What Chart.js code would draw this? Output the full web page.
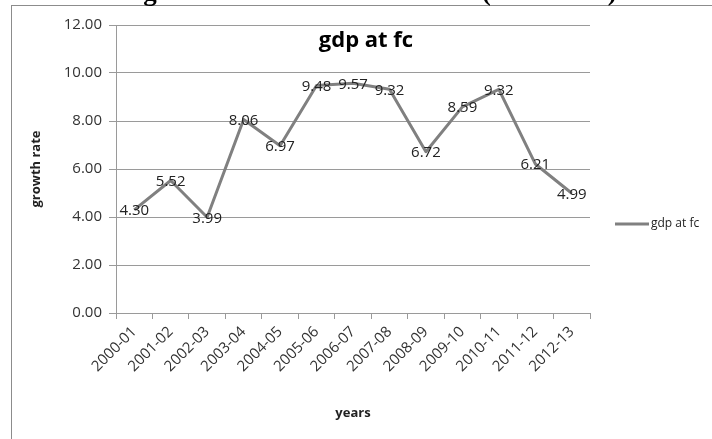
<!DOCTYPE html>
<html>
<head>
<meta charset="utf-8">
<script src="https://cdn.jsdelivr.net/npm/chart.js@4/dist/chart.umd.min.js"></script>
<style>
  html, body { margin: 0; padding: 0; background: #fff; overflow: hidden; }
  canvas { display: block; }
</style>
</head>
<body>
<canvas id="chart" width="712" height="439"></canvas>
<script>
// Fiscal years on the category axis
const years = ['2000-01', '2001-02', '2002-03', '2003-04', '2004-05', '2005-06', '2006-07',
               '2007-08', '2008-09', '2009-10', '2010-11', '2011-12', '2012-13'];
// Growth rate of GDP at factor cost, per cent
const gdpAtFc = [4.30, 5.52, 3.99, 8.06, 6.97, 9.48, 9.57, 9.32, 6.72, 8.59, 9.32, 6.21, 4.99];
// Value-axis ticks
const yTicks = [0, 2, 4, 6, 8, 10, 12];

const seriesName = 'gdp at fc';
const chartTitle = 'gdp at fc';
const xTitle = 'years';
const yTitle = 'growth rate';
const pageHeading = 'Annual growth of GDP at factor cost (2004-2005)';

const FONT = '"Open Sans", "Noto Sans", sans-serif';
const GRID = '#9a9a9a';
const LINE = '#808080';

// Page heading above the chart frame, plus the frame itself
const frameAndHeading = {
  id: 'frameAndHeading',
  beforeDraw(chart) {
    const ctx = chart.ctx;
    ctx.save();
    ctx.fillStyle = '#fff';
    ctx.fillRect(0, 0, chart.width, chart.height);
    ctx.strokeStyle = '#8c8c8c';
    ctx.lineWidth = 1;
    ctx.strokeRect(11.5, 5.5, 900, 600);
    ctx.fillStyle = '#000';
    ctx.font = 'bold 27px "Liberation Serif", serif';
    ctx.textAlign = 'left';
    ctx.textBaseline = 'alphabetic';
    ctx.fillText(pageHeading, 51, -0.5);
    ctx.restore();
  }
};

// Chart title laid over the top of the plot
const overlayTitle = {
  id: 'overlayTitle',
  afterDraw(chart) {
    const ctx = chart.ctx;
    ctx.save();
    ctx.fillStyle = '#000';
    ctx.font = 'bold 22px ' + FONT;
    ctx.textAlign = 'center';
    ctx.textBaseline = 'alphabetic';
    ctx.fillText(chartTitle, 366, 47);
    ctx.restore();
  }
};

// Value labels centred on each point of the line
const pointLabels = {
  id: 'pointLabels',
  afterDatasetsDraw(chart) {
    const ctx = chart.ctx;
    ctx.save();
    ctx.fillStyle = '#222';
    ctx.font = '15px ' + FONT;
    ctx.textAlign = 'center';
    ctx.textBaseline = 'middle';
    chart.data.datasets.forEach((ds, i) => {
      chart.getDatasetMeta(i).data.forEach((pt, j) => {
        ctx.fillText(ds.data[j].toFixed(2), pt.x, pt.y + 1);
      });
    });
    ctx.restore();
  }
};

// Legend entry to the right of the plot
const sideLegend = {
  id: 'sideLegend',
  afterDraw(chart) {
    const ctx = chart.ctx;
    const ds = chart.data.datasets[0];
    const x0 = chart.chartArea.right + 25;
    const y = 224;
    ctx.save();
    ctx.strokeStyle = ds.borderColor;
    ctx.lineWidth = ds.borderWidth;
    ctx.beginPath();
    ctx.moveTo(x0, y);
    ctx.lineTo(x0 + 34, y);
    ctx.stroke();
    ctx.fillStyle = '#222';
    ctx.font = '12px ' + FONT;
    ctx.textAlign = 'left';
    ctx.textBaseline = 'middle';
    ctx.fillText(ds.label, x0 + 36, y);
    ctx.restore();
  }
};

new Chart(document.getElementById('chart'), {
  type: 'line',
  data: {
    labels: years,
    datasets: [{
      label: seriesName,
      data: gdpAtFc,
      borderColor: LINE,
      borderWidth: 3,
      borderJoinStyle: 'round',
      pointRadius: 0,
      tension: 0,
      fill: false
    }]
  },
  options: {
    responsive: false,
    animation: false,
    devicePixelRatio: 1,
    layout: { padding: { left: 0, top: 25, right: 122, bottom: 0 } },
    plugins: {
      legend: { display: false },
      title: { display: false },
      tooltip: { enabled: false }
    },
    scales: {
      x: {
        offset: true,
        grid: { display: true, drawOnChartArea: false, drawTicks: true, tickLength: 6, color: GRID, offset: true },
        border: { color: GRID },
        ticks: { autoSkip: false, maxRotation: 45, minRotation: 45, padding: 4, color: '#333', font: { family: FONT, size: 15 } },
        title: { display: true, text: xTitle, color: '#222', font: { family: FONT, size: 13, weight: 'bold' }, padding: { top: 0, bottom: 18 } },
        afterFit(scale) { scale.height = 126; }
      },
      y: {
        min: 0,
        max: 12,
        afterBuildTicks(scale) { scale.ticks = yTicks.map(v => ({ value: v })); },
        grid: { color: GRID, tickLength: 7 },
        border: { color: GRID },
        ticks: { padding: 7, color: '#333', font: { family: FONT, size: 15 }, callback: v => Number(v).toFixed(2) },
        title: { display: true, text: yTitle, color: '#222', font: { family: FONT, size: 13, weight: 'bold' }, padding: { top: 28, bottom: 0 } },
        afterFit(scale) { scale.width = 116; }
      }
    }
  },
  plugins: [frameAndHeading, overlayTitle, pointLabels, sideLegend]
});
</script>
</body>
</html>
